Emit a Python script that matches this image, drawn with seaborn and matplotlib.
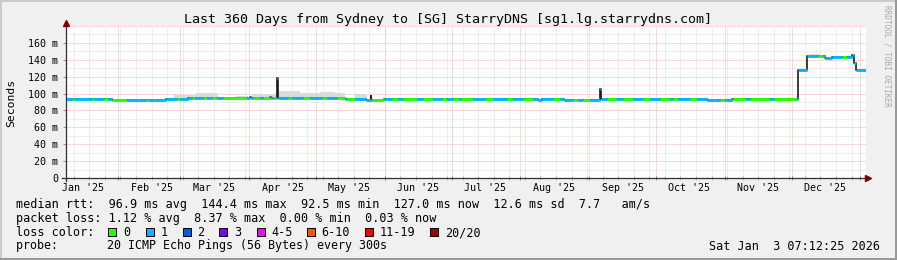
import numpy as np
import pandas as pd
import matplotlib
matplotlib.use("Agg")
import matplotlib.pyplot as plt
import matplotlib.dates as mdates
from matplotlib.lines import Line2D
from matplotlib.patches import Rectangle
import seaborn as sns

plt.rcParams['font.family'] = ['DejaVu Sans Mono', 'DejaVu Sans']

# ---------------- data ----------------
title = "Last 360 Days from Sydney to [SG] StarryDNS [sg1.lg.starrydns.com]"
start = pd.Timestamp("2025-01-08 07:12:25")
end = pd.Timestamp("2026-01-03 07:12:25")

# median rtt (ms) as a step series, days since start
med_day = [0.0, 20.7, 45.2, 55.1, 83.0, 83.4, 92.0, 92.4, 95.0, 95.4,
           125.8, 135.2, 137.3, 137.6, 143.3, 203.1, 206.7, 212.6, 214.3, 224.3,
           240.5, 240.9, 288.5, 299.7, 329.4, 329.7, 333.8, 341.7, 345.0, 352.5,
           353.7, 354.8, 355.5, 360.0]
med_ms = [94.0, 92.6, 94.0, 94.5, 96.5, 94.5, 96.0, 94.5, 118.0, 95.2,
          94.0, 92.8, 97.0, 92.8, 94.0, 93.0, 94.0, 92.8, 94.0, 92.8,
          105.5, 94.0, 92.6, 94.0, 103.5, 128.0, 144.4, 142.5, 143.3, 143.0,
          145.5, 136.0, 128.0, 128.0]

# periods with 0 packet loss (green); other periods had 1 lost packet (cyan)
green_start = [3.5, 11.7, 17.3, 20.7, 36.6, 50.0, 56.7, 61.8, 65.7, 70.8,
               84.3, 88.8, 93.3, 100.1, 106.8, 115.4, 122.1, 126.6, 137.7, 146.7,
               151.8, 160.8, 169.4, 174.3, 177.8, 188.7, 198.6, 205.8, 219.3, 228.3,
               232.8, 243.6, 250.8, 259.8, 267.5, 273.3, 281.0, 294.5, 300.3, 308.0,
               318.8, 338.6, 349.4]
green_end = [4.2, 12.8, 18.9, 27.5, 37.5, 51.5, 58.2, 63.5, 68.0, 81.5,
             87.5, 92.0, 94.7, 101.9, 110.0, 117.6, 125.7, 130.2, 143.7, 149.6,
             158.1, 165.3, 171.6, 177.0, 183.3, 192.3, 201.3, 210.3, 222.5, 230.6,
             236.0, 248.1, 255.3, 263.0, 272.0, 275.6, 284.1, 296.7, 306.2, 317.0,
             329.1, 340.9, 351.6]

# smoke (rtt spread) upper envelope
smoke_start = [48.8, 58.6, 76.7, 83.7, 94.7, 102.4, 105.5, 114.5, 121.2, 130.2, 334.8]
smoke_end = [58.6, 68.6, 82.1, 94.7, 102.4, 105.5, 114.5, 121.2, 125.7, 135.6, 339.3]
smoke_top = [98.0, 100.5, 97.0, 100.0, 102.5, 103.5, 101.0, 102.0, 100.5, 100.0, 146.5]

ytick_vals = [0, 20, 40, 60, 80, 100, 120, 140, 160]
ytick_labels = ['0', '20 m', '40 m', '60 m', '80 m', '100 m', '120 m', '140 m', '160 m']
month_labels = ["Jan '25", "Feb '25", "Mar '25", "Apr '25", "May '25", "Jun '25",
                "Jul '25", "Aug '25", "Sep '25", "Oct '25", "Nov '25", "Dec '25"]

line_rtt = "median rtt:  96.9 ms avg  144.4 ms max  92.5 ms min  127.0 ms now  12.6 ms sd  7.7   am/s"
line_loss = "packet loss: 1.12 % avg  8.37 % max  0.00 % min  0.03 % now"
line_probe = "probe:       20 ICMP Echo Pings (56 Bytes) every 300s"
stamp = "Sat Jan  3 07:12:25 2026"
loss_labels = ['0', '1', '2', '3', '4-5', '6-10', '11-19', '20/20']
loss_colors = ['#26ff00', '#00b8ff', '#0059ff', '#7e00ff', '#ff00ff', '#ff5500', '#ff0000', '#a00000']

# ---------------- figure ----------------
W, H = 897, 260
fig = plt.figure(figsize=(W / 100, H / 100), dpi=100, facecolor='#f0f0f0')

def fx(px):
    return px / W

def fy(py):
    return 1 - py / H

ax = fig.add_axes([fx(65.6), fy(178), 800 / W, 152 / H])
ax.set_facecolor('white')
x0 = mdates.date2num(start)
x1 = mdates.date2num(end)
ax.set_xlim(x0, x1)
ax.set_ylim(0, 180)
for s in ax.spines.values():
    s.set_visible(False)

minor_col = '#dedede'
major_col = '#f5b4b4'
dot = (0, (1, 1))

weeks = pd.date_range('2025-01-12', end, freq='7D')
months = pd.date_range('2025-02-01', end, freq='MS')
for d in weeks:
    ax.axvline(mdates.date2num(d), color=minor_col, lw=0.72, ls=dot, zorder=0.5)
for d in months:
    ax.axvline(mdates.date2num(d), color=major_col, lw=0.72, ls=dot, zorder=0.6)
for v in range(10, 181, 20):
    ax.axhline(v, color=minor_col, lw=0.72, ls=dot, zorder=0.5)
for v in range(20, 181, 20):
    ax.axhline(v, color=major_col, lw=0.72, ls=dot, zorder=0.6)

# smoke
def med_at(d):
    i = int(np.searchsorted(med_day, d, side='right')) - 1
    i = max(0, min(i, len(med_ms) - 1))
    return med_ms[i]

for s, e, t in zip(smoke_start, smoke_end, smoke_top):
    b = med_at((s + e) / 2)
    ax.fill_between([x0 + s, x0 + e], [b, b], [t, t], color='#dadada', lw=0, zorder=1)

# median line (black steps) via seaborn
df = pd.DataFrame({'t': x0 + np.array(med_day), 'ms': med_ms})
sns.lineplot(data=df, x='t', y='ms', drawstyle='steps-post', color='#1a1a1a',
             lw=1.2, estimator=None, ax=ax, zorder=2)

# loss-coloured median segments
bounds = sorted(set(med_day + green_start + green_end))
xs0, xs1, ys, cs = [], [], [], []
for a, b in zip(bounds[:-1], bounds[1:]):
    if b <= a or a >= 360.0:
        continue
    mid = (a + b) / 2
    g = any(s <= mid < e for s, e in zip(green_start, green_end))
    xs0.append(x0 + a)
    xs1.append(x0 + b)
    ys.append(med_at(mid))
    cs.append(loss_colors[0] if g else loss_colors[1])
ax.hlines(ys, xs0, xs1, colors=cs, lw=2.1, zorder=3)

ax.set_xlabel('')
ax.set_ylabel('')
# ticks
label_pos = [mdates.date2num(pd.Timestamp(2025, m, 16)) for m in range(1, 13)]
ax.set_xticks(label_pos, month_labels)
ax.tick_params(axis='x', length=0, pad=3.5, labelsize=7.2, labelcolor='black')
ax.set_yticks(ytick_vals, ytick_labels)
ax.tick_params(axis='y', length=2, width=0.72, color='#e07070', pad=3.2,
               labelsize=7.2, labelcolor='black', direction='out')

xt = ax.get_xaxis_transform()
for d in weeks:
    ax.vlines(mdates.date2num(d), -0.013, 0.013, transform=xt, color='#b8b8b8',
              lw=0.72, clip_on=False, zorder=4)
for d in months:
    ax.vlines(mdates.date2num(d), -0.013, 0.013, transform=xt, color='#e06060',
              lw=0.72, clip_on=False, zorder=4)

# axis lines and arrows
axis_col = '#303030'
fig.add_artist(Line2D([fx(62), fx(867)], [fy(178), fy(178)], color=axis_col, lw=0.9))
fig.add_artist(Line2D([fx(66), fx(66)], [fy(181), fy(24)], color=axis_col, lw=0.9))
fig.add_artist(Line2D([fx(868)], [fy(178)], marker='>', ms=4, color='#7f0000', mec='#7f0000'))
fig.add_artist(Line2D([fx(66)], [fy(23)], marker='^', ms=4, color='#7f0000', mec='#7f0000'))

# texts
fig.text(fx(447.5), fy(19.5), title, ha='center', va='center', fontsize=9.6, color='black')
fig.text(fx(11), fy(103), 'Seconds', rotation=90, ha='center', va='center', fontsize=8.2)
fig.text(fx(886.5), fy(5), 'RRDTOOL / TOBI OETIKER', rotation=270, ha='center', va='top',
         fontsize=5.6, color='#a8a8a8')

fs = 8.5
fig.text(fx(16), fy(208.3), line_rtt, ha='left', va='baseline', fontsize=fs)
fig.text(fx(16), fy(222), line_loss, ha='left', va='baseline', fontsize=fs)
fig.text(fx(16), fy(236), 'loss color:', ha='left', va='baseline', fontsize=fs)
fig.text(fx(16), fy(249.5), line_probe, ha='left', va='baseline', fontsize=8.35)
fig.text(fx(880), fy(249.5), stamp, ha='right', va='baseline', fontsize=fs)

sq_x = [108.3, 145.7, 182.7, 219.3, 256.7, 306.7, 365.0, 430.0]
lab_x = [123.3, 160.7, 197.3, 234.3, 271.7, 321.7, 380.0, 445.0]
for sx, lx, lab, col in zip(sq_x, lab_x, loss_labels, loss_colors):
    fig.add_artist(Rectangle((fx(sx), fy(236.3)), 8 / W, 8.3 / H, transform=fig.transFigure,
                             facecolor=col, edgecolor='black', lw=0.72))
    fig.text(fx(lx), fy(236), lab, ha='left', va='baseline', fontsize=fs)

# frame shading
fig.add_artist(Rectangle((0, fy(2)), 1, 2 / H, transform=fig.transFigure, color='#cbcbcb', lw=0))
fig.add_artist(Rectangle((0, 0), 2 / W, 1, transform=fig.transFigure, color='#cbcbcb', lw=0))
fig.add_artist(Rectangle((0, 0), 1, 2 / H, transform=fig.transFigure, color='#999999', lw=0))
fig.add_artist(Rectangle((1 - 2 / W, 0), 2 / W, 1, transform=fig.transFigure, color='#999999', lw=0))

fig.savefig('out.png', dpi=100, facecolor=fig.get_facecolor())
